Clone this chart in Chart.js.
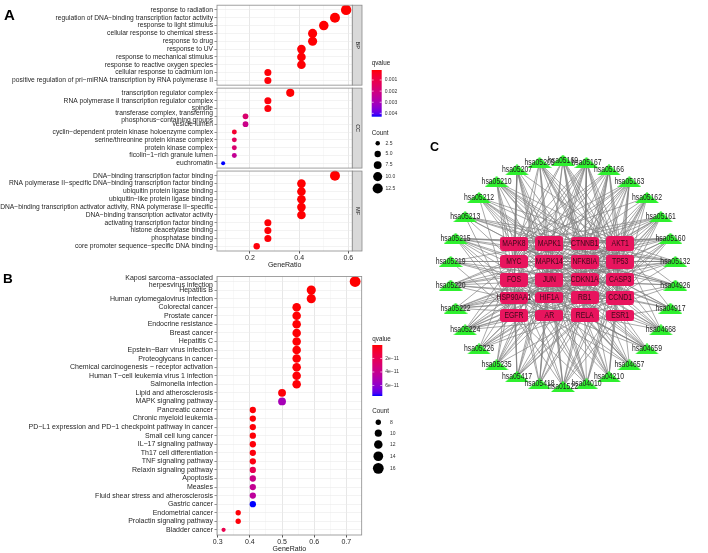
<!DOCTYPE html>
<html>
<head>
<meta charset="utf-8">
<script src="https://cdn.jsdelivr.net/npm/chart.js@4.4.1/dist/chart.umd.min.js"></script>
<style>
  html, body { margin: 0; padding: 0; background: #fff; }
  body { width: 708px; height: 553px; position: relative; overflow: hidden; }
  .box { position: absolute; }
</style>
</head>
<body>
<div class="box" style="left:0;top:0;width:418px;height:272px"><canvas id="chartA"></canvas></div>
<div class="box" style="left:0;top:271px;width:418px;height:282px"><canvas id="chartB"></canvas></div>
<div class="box" style="left:418px;top:128px;width:290px;height:295px"><canvas id="chartC"></canvas></div>
<script>
// ---------------- DONNÉES ----------------

// A : enrichissement GO (BP / CC / MF)
const bpTerms = [
    'response to radiation',
    'regulation of DNA−binding transcription factor activity',
    'response to light stimulus',
    'cellular response to chemical stress',
    'response to drug',
    'response to UV',
    'response to mechanical stimulus',
    'response to reactive oxygen species',
    'cellular response to cadmium ion',
    'positive regulation of pri−miRNA transcription by RNA polymerase II'
];
const bpCounts = [13, 12, 11, 10, 10, 9, 9, 9, 6, 6];
const bpQvalues = [0.0001, 0.0001, 0.00011, 0.00012, 0.00012, 0.00013, 0.00013, 0.00013, 0.00015, 0.00016];

const ccTerms = [
    'transcription regulator complex',
    'RNA polymerase II transcription regulator complex',
    'spindle',
    ['transferase complex, transferring', 'phosphorus−containing groups'],
    'vesicle lumen',
    'cyclin−dependent protein kinase holoenzyme complex',
    'serine/threonine protein kinase complex',
    'protein kinase complex',
    'ficolin−1−rich granule lumen',
    'euchromatin'
];
const ccCounts = [8, 6, 6, 4, 4, 3, 3, 3, 3, 2];
const ccQvalues = [0.00012, 0.00017, 0.00018, 0.0017, 0.0022, 0.0006, 0.00136, 0.0017, 0.0024, 0.0043];

const mfTerms = [
    'DNA−binding transcription factor binding',
    'RNA polymerase II−specific DNA−binding transcription factor binding',
    'ubiquitin protein ligase binding',
    'ubiquitin−like protein ligase binding',
    'DNA−binding transcription activator activity, RNA polymerase II−specific',
    'DNA−binding transcription activator activity',
    'activating transcription factor binding',
    'histone deacetylase binding',
    'phosphatase binding',
    'core promoter sequence−specific DNA binding'
];
const mfCounts = [12, 9, 9, 9, 9, 9, 6, 6, 6, 5];
const mfQvalues = [0.0001, 0.00011, 0.00011, 0.00012, 0.00012, 0.00012, 0.00014, 0.00014, 0.00015, 0.00017];

// B : enrichissement KEGG
const keggTerms = [
    ['Kaposi sarcoma−associated', 'herpesvirus infection'],
    'Hepatitis B',
    'Human cytomegalovirus infection',
    'Colorectal cancer',
    'Prostate cancer',
    'Endocrine resistance',
    'Breast cancer',
    'Hepatitis C',
    'Epstein−Barr virus infection',
    'Proteoglycans in cancer',
    'Chemical carcinogenesis − receptor activation',
    'Human T−cell leukemia virus 1 infection',
    'Salmonella infection',
    'Lipid and atherosclerosis',
    'MAPK signaling pathway',
    'Pancreatic cancer',
    'Chronic myeloid leukemia',
    'PD−L1 expression and PD−1 checkpoint pathway in cancer',
    'Small cell lung cancer',
    'IL−17 signaling pathway',
    'Th17 cell differentiation',
    'TNF signaling pathway',
    'Relaxin signaling pathway',
    'Apoptosis',
    'Measles',
    'Fluid shear stress and atherosclerosis',
    'Gastric cancer',
    'Endometrial cancer',
    'Prolactin signaling pathway',
    'Bladder cancer'
];
const keggCounts = [16, 13, 13, 12, 12, 12, 12, 12, 12, 12, 12, 12, 12, 11, 11,
                    9, 9, 9, 9, 9, 9, 9, 9, 9, 9, 9, 9, 8, 8, 7];
const keggQvalues = [1e-13, 3e-13, 4e-13, 5e-13, 5e-13, 5e-13, 6e-13, 6e-13, 7e-13, 7e-13,
                     8e-13, 9e-13, 9e-13, 8e-13, 5.3e-11, 8e-13, 8e-13, 9e-13, 9e-13, 1.2e-12,
                     1.6e-12, 2.2e-12, 1.9e-11, 3.7e-11, 4.1e-11, 4.4e-11, 7.55e-11, 1e-12, 1.2e-12, 1.8e-11];

const geneListSize = 22; // GeneRatio = Count / 22

// Graduations et légendes
const goRatioTicks = [0.1, 0.2, 0.3, 0.4, 0.5, 0.6];
const goRatioMajor = [0.2, 0.4, 0.6];
const keggRatioTicks = [0.3, 0.35, 0.4, 0.45, 0.5, 0.55, 0.6, 0.65, 0.7];
const keggRatioMajor = [0.3, 0.4, 0.5, 0.6, 0.7];
const goQTicks = [0.001, 0.002, 0.003, 0.004];
const goQLabels = ['0.001', '0.002', '0.003', '0.004'];
const keggQTicks = [2e-11, 4e-11, 6e-11];
const keggQLabels = ['2e−11', '4e−11', '6e−11'];
const goCountBreaks = [2.5, 5, 7.5, 10, 12.5];
const goCountLabels = ['2.5', '5.0', '7.5', '10.0', '12.5'];
const keggCountBreaks = [8, 10, 12, 14, 16];
const keggCountLabels = ['8', '10', '12', '14', '16'];

// C : réseau gènes / voies
const pathwayIds = ['hsa05169', 'hsa05167', 'hsa05166', 'hsa05163', 'hsa05162', 'hsa05161',
    'hsa05160', 'hsa05132', 'hsa04926', 'hsa04917', 'hsa04668', 'hsa04659', 'hsa04657',
    'hsa04210', 'hsa04010', 'hsa01522', 'hsa05418', 'hsa05417', 'hsa05235', 'hsa05226',
    'hsa05224', 'hsa05222', 'hsa05220', 'hsa05219', 'hsa05215', 'hsa05213', 'hsa05212',
    'hsa05210', 'hsa05207', 'hsa05205'];
const pathwayGenes = [
    'MAPK8 AKT1 MYC MAPK14 NFKBIA TP53 JUN CDKN1A CASP3 RB1 CCND1 RELA',
    'MAPK8 MAPK1 CTNNB1 AKT1 MYC MAPK14 NFKBIA TP53 FOS JUN CDKN1A CASP3 HIF1A RB1 CCND1 RELA',
    'MAPK8 CTNNB1 AKT1 MYC NFKBIA TP53 FOS JUN CDKN1A RB1 CCND1 RELA',
    'MAPK8 MAPK1 CTNNB1 AKT1 MYC MAPK14 NFKBIA TP53 CASP3 RB1 CCND1 EGFR RELA',
    'MAPK8 AKT1 MAPK14 NFKBIA TP53 CDKN1A RB1 CCND1 RELA',
    'MAPK8 MAPK1 AKT1 MYC NFKBIA TP53 FOS JUN CDKN1A CASP3 RB1 CCND1 RELA',
    'MAPK8 MAPK1 CTNNB1 AKT1 MAPK14 NFKBIA TP53 CDKN1A CASP3 RB1 CCND1 RELA',
    'MAPK8 MAPK1 CTNNB1 AKT1 MYC MAPK14 NFKBIA FOS JUN CASP3 HSP90AA1 RELA',
    'MAPK8 MAPK1 AKT1 MAPK14 NFKBIA FOS JUN EGFR RELA',
    'MAPK8 MAPK1 AKT1 MAPK14 NFKBIA FOS CCND1 ESR1',
    'MAPK8 MAPK1 AKT1 MAPK14 NFKBIA FOS JUN CASP3 RELA',
    'MAPK8 MAPK1 MAPK14 NFKBIA FOS JUN HIF1A HSP90AA1 RELA',
    'MAPK8 MAPK1 MAPK14 NFKBIA FOS JUN CASP3 HSP90AA1 RELA',
    'MAPK8 MAPK1 AKT1 NFKBIA TP53 FOS JUN CASP3 RELA',
    'MAPK8 MAPK1 AKT1 MYC MAPK14 TP53 FOS JUN CASP3 EGFR RELA',
    'MAPK8 MAPK1 AKT1 MAPK14 TP53 FOS JUN CDKN1A RB1 CCND1 EGFR ESR1',
    'MAPK8 MAPK1 CTNNB1 AKT1 MAPK14 NFKBIA FOS JUN RELA',
    'MAPK8 MAPK1 AKT1 MAPK14 NFKBIA TP53 FOS JUN CASP3 HSP90AA1 RELA',
    'MAPK8 MAPK1 AKT1 MAPK14 NFKBIA FOS JUN HIF1A RELA',
    'MAPK1 CTNNB1 AKT1 MYC TP53 CDKN1A RB1 CCND1 EGFR',
    'MAPK1 CTNNB1 AKT1 MYC TP53 FOS JUN CDKN1A RB1 CCND1 EGFR ESR1',
    'AKT1 MYC NFKBIA TP53 CDKN1A CASP3 RB1 CCND1 RELA',
    'MAPK1 AKT1 MYC NFKBIA TP53 CDKN1A RB1 CCND1 RELA',
    'MAPK1 MYC TP53 CDKN1A RB1 CCND1 EGFR',
    'MAPK1 CTNNB1 AKT1 NFKBIA TP53 CDKN1A HSP90AA1 RB1 CCND1 EGFR AR RELA',
    'MAPK1 CTNNB1 AKT1 MYC TP53 CDKN1A CCND1 EGFR',
    'MAPK8 MAPK1 AKT1 TP53 CDKN1A RB1 CCND1 EGFR RELA',
    'MAPK8 MAPK1 CTNNB1 AKT1 MYC TP53 FOS JUN CASP3 CDKN1A CCND1 EGFR',
    'MAPK8 MAPK1 AKT1 MYC MAPK14 NFKBIA FOS JUN HSP90AA1 HIF1A EGFR AR',
    'MAPK1 CTNNB1 AKT1 MYC MAPK14 TP53 CDKN1A CASP3 HIF1A CCND1 EGFR ESR1'
];
const hubGenes = ['MAPK8', 'MAPK1', 'CTNNB1', 'AKT1',
                  'MYC', 'MAPK14', 'NFKBIA', 'TP53',
                  'FOS', 'JUN', 'CDKN1A', 'CASP3',
                  'HSP90AA1', 'HIF1A', 'RB1', 'CCND1',
                  'EGFR', 'AR', 'RELA', 'ESR1'];


// ---------------- OUTILS ----------------
const FONT = '"Liberation Sans", Arial, sans-serif';
const TXT = '#262626';

// dégradé rouge -> bleu dans l'espace Lab (comme ggplot)
const LAB_LOW = [53.24, 80.09, 67.20];
const LAB_HIGH = [32.30, 79.19, -107.86];
function labToRgb(L, A, B) {
    const fy = (L + 16) / 116, fx = fy + A / 500, fz = fy - B / 200;
    const inv = t => t > 6 / 29 ? t * t * t : 3 * (6 / 29) * (6 / 29) * (t - 4 / 29);
    const X = 0.95047 * inv(fx), Y = inv(fy), Z = 1.08883 * inv(fz);
    const lin = [3.2406 * X - 1.5372 * Y - 0.4986 * Z,
                 -0.9689 * X + 1.8758 * Y + 0.0415 * Z,
                 0.0557 * X - 0.2040 * Y + 1.0570 * Z];
    const c = lin.map(v => {
        v = Math.max(0, Math.min(1, v));
        v = v <= 0.0031308 ? 12.92 * v : 1.055 * Math.pow(v, 1 / 2.4) - 0.055;
        return Math.round(v * 255);
    });
    return `rgb(${c[0]},${c[1]},${c[2]})`;
}
function rampColor(t) {
    t = Math.max(0, Math.min(1, t));
    return labToRgb(LAB_LOW[0] + (LAB_HIGH[0] - LAB_LOW[0]) * t,
                    LAB_LOW[1] + (LAB_HIGH[1] - LAB_LOW[1]) * t,
                    LAB_LOW[2] + (LAB_HIGH[2] - LAB_LOW[2]) * t);
}
const qColor = (q, lo, hi) => rampColor((q - lo) / (hi - lo));

const sizeGO = c => Math.sqrt(2.09 * c - 0.18);
const sizeKEGG = c => Math.sqrt(2.75 * c - 14.84);

function expandRange(vals) {
    const lo = Math.min(...vals), hi = Math.max(...vals), d = (hi - lo) * 0.05;
    return [lo - d, hi + d];
}
const isIn = (v, list) => list.some(m => Math.abs(m - v) < 1e-9);

function xAxis(range, ticks, major, height, titlePad) {
    return {
        type: 'linear', min: range[0], max: range[1],
        afterBuildTicks: s => { s.ticks = ticks.map(v => ({ value: v })); },
        afterFit: s => { s.height = height; },
        ticks: {
            autoSkip: false, maxRotation: 0, padding: 0, color: TXT,
            font: { family: FONT, size: 7 },
            callback: v => isIn(v, major) ? v.toFixed(1) : ''
        },
        grid: {
            color: c => isIn(c.tick.value, major) ? '#e4e4e4' : '#f1f1f1',
            lineWidth: c => isIn(c.tick.value, major) ? 0.9 : 0.5,
            tickLength: 2.5,
            tickColor: c => isIn(c.tick.value, major) ? '#444' : 'rgba(0,0,0,0)'
        },
        border: { display: false },
        title: {
            display: true, text: 'GeneRatio', color: '#1a1a1a',
            font: { family: FONT, size: 7, lineHeight: 1 },
            padding: { top: 0, bottom: titlePad }
        }
    };
}
function yAxis(max, rows, labels, fontSize) {
    return {
        type: 'linear', reverse: true, min: 0, max: max,
        afterBuildTicks: s => { s.ticks = rows.map(v => ({ value: v })); },
        afterFit: s => { s.width = 217; },
        ticks: {
            autoSkip: false, padding: 1.5, color: TXT,
            font: { family: FONT, size: fontSize, lineHeight: 1.05 },
            callback: (v, i) => labels[i]
        },
        grid: { color: '#ebebeb', lineWidth: 0.6, tickLength: 2.5, tickColor: '#444' },
        border: { display: false }
    };
}

function drawColorbar(ctx, o) {
    ctx.save();
    ctx.textAlign = 'left';
    ctx.textBaseline = 'middle';
    ctx.fillStyle = '#1a1a1a';
    ctx.font = `6.3px ${FONT}`;
    ctx.fillText('qvalue', o.x, o.titleY);
    const g = ctx.createLinearGradient(0, o.top, 0, o.top + o.h);
    for (let s = 0; s <= 20; s++) g.addColorStop(s / 20, rampColor(s / 20));
    ctx.fillStyle = g;
    ctx.fillRect(o.x, o.top, 10, o.h);
    ctx.strokeStyle = '#fff';
    ctx.lineWidth = 0.6;
    ctx.font = `5px ${FONT}`;
    ctx.fillStyle = '#333';
    o.ticks.forEach((q, i) => {
        const yy = o.top + (q - o.lo) / (o.hi - o.lo) * o.h;
        ctx.beginPath();
        ctx.moveTo(o.x, yy); ctx.lineTo(o.x + 2, yy);
        ctx.moveTo(o.x + 8, yy); ctx.lineTo(o.x + 10, yy);
        ctx.stroke();
        ctx.fillText(o.labels[i], o.x + 13, yy);
    });
    ctx.restore();
}
function drawSizeLegend(ctx, o) {
    ctx.save();
    ctx.textAlign = 'left';
    ctx.textBaseline = 'middle';
    ctx.fillStyle = '#1a1a1a';
    ctx.font = `6.3px ${FONT}`;
    ctx.fillText('Count', o.x, o.titleY);
    ctx.font = `5px ${FONT}`;
    let y = o.firstY;
    o.breaks.forEach((c, i) => {
        if (i) y += 9 + 0.3 * (o.size(o.breaks[i - 1]) + o.size(c));
        ctx.fillStyle = '#000';
        ctx.beginPath();
        ctx.arc(o.x + 6, y, o.size(c), 0, Math.PI * 2);
        ctx.fill();
        ctx.fillStyle = '#333';
        ctx.fillText(o.labels[i], o.labelX, y);
    });
    ctx.restore();
}
function drawLetter(ctx, txt, x, y, size) {
    ctx.save();
    ctx.font = `bold ${size}px ${FONT}`;
    ctx.fillStyle = '#000';
    ctx.textAlign = 'left';
    ctx.textBaseline = 'alphabetic';
    ctx.fillText(txt, x, y);
    ctx.restore();
}


// ---------------- PANNEAU A ----------------
const facetSpan = 10.2, facetGap = 0.38;
const goFacets = [
    { name: 'BP', terms: bpTerms, counts: bpCounts, q: bpQvalues },
    { name: 'CC', terms: ccTerms, counts: ccCounts, q: ccQvalues },
    { name: 'MF', terms: mfTerms, counts: mfCounts, q: mfQvalues }
];
const allGoQ = [...bpQvalues, ...ccQvalues, ...mfQvalues];
const goQMin = Math.min(...allGoQ), goQMax = Math.max(...allGoQ);
const goRows = [], goLabels = [], goPoints = [], goColors = [], goRadii = [];
goFacets.forEach((f, k) => {
    const start = k * (facetSpan + facetGap);
    f.terms.forEach((t, i) => {
        const y = start + 0.6 + i;
        goRows.push(y);
        goLabels.push(t);
        goPoints.push({ x: f.counts[i] / geneListSize, y: y });
        goColors.push(qColor(f.q[i], goQMin, goQMax));
        goRadii.push(sizeGO(f.counts[i]));
    });
});
const goRange = expandRange([...bpCounts, ...ccCounts, ...mfCounts].map(c => c / geneListSize));

new Chart(document.getElementById('chartA'), {
    type: 'scatter',
    data: { datasets: [{
        data: goPoints,
        backgroundColor: goColors, pointBackgroundColor: goColors,
        pointRadius: goRadii, pointHoverRadius: goRadii, pointBorderWidth: 0
    }] },
    options: {
        responsive: true, maintainAspectRatio: false, animation: false, events: [],
        devicePixelRatio: 1,
        layout: { padding: { top: 2, right: 65.7, bottom: 0, left: 0 } },
        plugins: { legend: { display: false }, tooltip: { enabled: false } },
        scales: {
            x: xAxis(goRange, goRatioTicks, goRatioMajor, 21, 3),
            y: yAxis(3 * facetSpan + 2 * facetGap, goRows, goLabels, 6.7)
        }
    },
    plugins: [{
        id: 'goFacets',
        beforeDatasetsDraw(chart) {
            const { ctx, chartArea: ca, scales: { y } } = chart;
            ctx.save();
            ctx.fillStyle = '#fff';
            for (let k = 0; k < goFacets.length - 1; k++) {
                const y0 = y.getPixelForValue(k * (facetSpan + facetGap) + facetSpan);
                const y1 = y.getPixelForValue((k + 1) * (facetSpan + facetGap));
                ctx.fillRect(ca.left - 0.5, y0, ca.right - ca.left + 12, y1 - y0);
            }
            ctx.restore();
        },
        afterDatasetsDraw(chart) {
            const { ctx, chartArea: ca, scales: { y } } = chart;
            ctx.save();
            goFacets.forEach((f, k) => {
                const top = y.getPixelForValue(k * (facetSpan + facetGap));
                const bot = y.getPixelForValue(k * (facetSpan + facetGap) + facetSpan);
                ctx.strokeStyle = '#8a8a8a';
                ctx.lineWidth = 0.8;
                ctx.strokeRect(ca.left, top, ca.right - ca.left, bot - top);
                ctx.fillStyle = '#d9d9d9';
                ctx.fillRect(ca.right, top, 9.7, bot - top);
                ctx.strokeRect(ca.right, top, 9.7, bot - top);
                ctx.save();
                ctx.translate(ca.right + 4.85, (top + bot) / 2);
                ctx.rotate(Math.PI / 2);
                ctx.fillStyle = '#1a1a1a';
                ctx.font = `5.5px ${FONT}`;
                ctx.textAlign = 'center';
                ctx.textBaseline = 'middle';
                ctx.fillText(f.name, 0, 0);
                ctx.restore();
            });
            ctx.restore();
        },
        afterDraw(chart) {
            const ctx = chart.ctx;
            drawColorbar(ctx, { x: 371.7, titleY: 63.3, top: 70, h: 46.7,
                lo: goQMin, hi: goQMax, ticks: goQTicks, labels: goQLabels });
            drawSizeLegend(ctx, { x: 371.7, titleY: 133.3, firstY: 143.3, labelX: 385.5,
                breaks: goCountBreaks, labels: goCountLabels, size: sizeGO });
            drawLetter(ctx, 'A', 4, 20, 15);
        }
    }]
});


// ---------------- PANNEAU B ----------------
const keggQMin = Math.min(...keggQvalues), keggQMax = Math.max(...keggQvalues);
const keggRows = keggTerms.map((t, i) => 0.6 + i);
const keggPoints = keggCounts.map((c, i) => ({ x: c / geneListSize, y: keggRows[i] }));
const keggColors = keggQvalues.map(q => qColor(q, keggQMin, keggQMax));
const keggRadii = keggCounts.map(sizeKEGG);
const keggRange = expandRange(keggCounts.map(c => c / geneListSize));

new Chart(document.getElementById('chartB'), {
    type: 'scatter',
    data: { datasets: [{
        data: keggPoints,
        backgroundColor: keggColors, pointBackgroundColor: keggColors,
        pointRadius: keggRadii, pointHoverRadius: keggRadii, pointBorderWidth: 0
    }] },
    options: {
        responsive: true, maintainAspectRatio: false, animation: false, events: [],
        devicePixelRatio: 1,
        layout: { padding: { top: 4, right: 56.3, bottom: 0, left: 0 } },
        plugins: { legend: { display: false }, tooltip: { enabled: false } },
        scales: {
            x: xAxis(keggRange, keggRatioTicks, keggRatioMajor, 18, 0),
            y: yAxis(keggTerms.length + 0.2, keggRows, keggTerms, 7)
        }
    },
    plugins: [{
        id: 'keggPanel',
        afterDatasetsDraw(chart) {
            const { ctx, chartArea: ca } = chart;
            ctx.save();
            ctx.strokeStyle = '#8a8a8a';
            ctx.lineWidth = 0.8;
            ctx.strokeRect(ca.left, ca.top, ca.right - ca.left, ca.bottom - ca.top);
            ctx.restore();
        },
        afterDraw(chart) {
            const ctx = chart.ctx;
            drawColorbar(ctx, { x: 372.3, titleY: 68.3, top: 74, h: 51,
                lo: keggQMin, hi: keggQMax, ticks: keggQTicks, labels: keggQLabels });
            drawSizeLegend(ctx, { x: 372.3, titleY: 140.7, firstY: 151.3, labelX: 390,
                breaks: keggCountBreaks, labels: keggCountLabels, size: sizeKEGG });
            drawLetter(ctx, 'B', 3, 12.3, 13.5);
        }
    }]
});


// ---------------- PANNEAU C ----------------
const ringRadius = 126;
const colStep = 39.5, rowStep = 20, gridShiftX = 4.5, gridShiftY = 7;
const pathwayPos = pathwayIds.map((id, i) => {
    const a = i * 2 * Math.PI / pathwayIds.length;
    return { x: ringRadius * Math.sin(a), y: -ringRadius * Math.cos(a) };
});
const genePos = hubGenes.map((g, i) => ({
    x: (i % 4 - 1.5) * colStep + gridShiftX,
    y: (Math.floor(i / 4) - 2) * rowStep + gridShiftY
}));
const geneDegree = hubGenes.map(() => 0);
const edgePoints = [];
pathwayGenes.forEach((list, i) => {
    list.split(' ').forEach(g => {
        const j = hubGenes.indexOf(g);
        geneDegree[j]++;
        edgePoints.push(pathwayPos[i], genePos[j], { x: null, y: null });
    });
});

function makeTriangle(w, h, color) {
    const c = document.createElement('canvas');
    c.width = w; c.height = h;
    const g = c.getContext('2d');
    g.fillStyle = color;
    g.beginPath();
    g.moveTo(w / 2, 0); g.lineTo(w, h); g.lineTo(0, h); g.closePath();
    g.fill();
    return c;
}
function makeBox(w, h, color) {
    const c = document.createElement('canvas');
    c.width = w; c.height = Math.round(h);
    const g = c.getContext('2d');
    g.fillStyle = color;
    g.beginPath();
    g.roundRect(0, 0, w, c.height, 3);
    g.fill();
    return c;
}
const triangleStyle = makeTriangle(24, 11, '#2ef02e');
const boxStyles = geneDegree.map(d => makeBox(28, Math.min(15.5, 10.5 + 0.17 * d), '#e8155e'));

function squishText(ctx, txt, x, y) {
    ctx.save();
    ctx.translate(x, y);
    ctx.scale(0.76, 1);
    ctx.fillText(txt, 0, 0);
    ctx.restore();
}

new Chart(document.getElementById('chartC'), {
    type: 'scatter',
    data: { datasets: [
        { data: pathwayPos, pointStyle: triangleStyle, pointRadius: 12, order: 1, clip: false },
        { data: genePos, pointStyle: ctx => boxStyles[ctx.dataIndex], pointRadius: 14, order: 0, clip: false },
        { data: edgePoints, showLine: true, spanGaps: false, pointRadius: 0, pointHoverRadius: 0,
          borderColor: 'rgba(128,128,128,0.9)', borderWidth: 0.75, order: 2 }
    ] },
    options: {
        responsive: true, maintainAspectRatio: false, animation: false, events: [],
        devicePixelRatio: 1,
        layout: { padding: 0 },
        plugins: { legend: { display: false }, tooltip: { enabled: false } },
        scales: {
            x: { type: 'linear', display: false, min: -145, max: 145 },
            y: { type: 'linear', display: false, reverse: true, min: -145, max: 150 }
        }
    },
    plugins: [{
        id: 'nodeLabels',
        afterDatasetsDraw(chart) {
            const ctx = chart.ctx;
            ctx.save();
            ctx.font = `9px ${FONT}`;
            ctx.textAlign = 'center';
            ctx.textBaseline = 'middle';
            ctx.fillStyle = '#222';
            chart.getDatasetMeta(0).data.forEach((el, i) => squishText(ctx, pathwayIds[i], el.x, el.y));
            ctx.fillStyle = '#3a0a18';
            chart.getDatasetMeta(1).data.forEach((el, i) => squishText(ctx, hubGenes[i], el.x, el.y));
            ctx.restore();
        },
        afterDraw(chart) {
            drawLetter(chart.ctx, 'C', 12, 22.7, 12.5);
        }
    }]
});
</script>
</body>
</html>
